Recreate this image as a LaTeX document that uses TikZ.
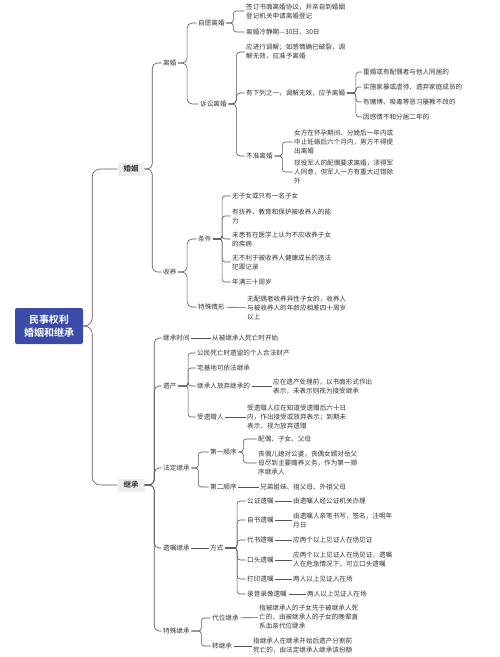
\documentclass[tikz,border=0pt]{standalone}
\usepackage{fontspec}
\setmainfont{Noto Sans CJK SC}[BoldFont={Noto Sans CJK SC Bold}]
\usepackage{tikz}
\definecolor{Accent}{HTML}{3A4BA8}
\definecolor{Soft}{HTML}{EEEEEE}
\definecolor{Ink}{HTML}{333333}
\definecolor{Wire}{HTML}{555555}
\tikzset{
maproot/.style={fill=Accent, rounded corners=2pt, text=white, align=center, font=\bfseries\fontsize{10}{13}\selectfont, minimum width=68pt, minimum height=36pt, inner sep=2pt},
mapmain/.style={fill=Soft, text=Ink, font=\bfseries\fontsize{7.5}{9}\selectfont, minimum width=27pt, minimum height=13pt, inner sep=1pt},
mapleaf/.style={anchor=west, align=left, inner sep=1.5pt, text=Ink, font=\fontsize{6.6}{9}\selectfont},
maplink/.style={draw=Wire, line width=0.6pt, rounded corners=3pt}
}

\begin{document}
\begin{tikzpicture}[x=1pt, y=-1pt]
  \useasboundingbox (0,0) rectangle (500,657);
  % root and the two main topics
  \node[maproot] (root) at (49,326) {民事权利\\婚姻和继承};
  \node[mapmain] (hy) at (131,169) {婚姻};
  \node[mapmain] (jc) at (131,485) {继承};
  % marriage side
  \node[mapleaf] (lh) at (161.5,63) {离婚};
  \node[mapleaf] (sy) at (161.5,272) {收养};
  \node[mapleaf] (zy) at (196.5,23) {自愿离婚};
  \node[mapleaf] (ss) at (198.5,104) {诉讼离婚};
  \node[mapleaf] (zy1) at (244.5,11) {签订书面离婚协议，并亲自到婚姻\\登记机关申请离婚登记};
  \node[mapleaf] (zy2) at (244.5,32) {离婚冷静期—30日、30日};
  \node[mapleaf] (ss1) at (244.5,52) {应进行调解；如感情确已破裂，调\\解无效，应准予离婚};
  \node[mapleaf] (ss2) at (244.5,93) {有下列之一，调解无效，应予离婚};
  \node[mapleaf] (ss3) at (244.5,156) {不准离婚};
  \node[mapleaf] (ss2a) at (361.5,72) {重婚或有配偶者与他人同居的};
  \node[mapleaf] (ss2b) at (361.5,87) {实施家暴或虐待、遗弃家庭成员的};
  \node[mapleaf] (ss2c) at (361.5,102) {有赌博、吸毒等恶习屡教不改的};
  \node[mapleaf] (ss2d) at (361.5,117) {因感情不和分居二年的};
  \node[mapleaf] (ss3a) at (292.5,142) {女方在怀孕期间、分娩后一年内或\\中止妊娠后六个月内，男方不得提\\出离婚};
  \node[mapleaf] (ss3b) at (292.5,172) {现役军人的配偶要求离婚，须得军\\人同意，但军人一方有重大过错除\\外};
  \node[mapleaf] (tj) at (196.5,239) {条件};
  \node[mapleaf] (ts) at (196.5,307) {特殊情形};
  \node[mapleaf] (tj1) at (230.5,196) {无子女或只有一名子女};
  \node[mapleaf] (tj2) at (230.5,216) {有抚养、教育和保护被收养人的能\\力};
  \node[mapleaf] (tj3) at (230.5,239) {未患有在医学上认为不应收养子女\\的疾病};
  \node[mapleaf] (tj4) at (230.5,262) {无不利于被收养人健康成长的违法\\犯罪记录};
  \node[mapleaf] (tj5) at (230.5,282) {年满三十周岁};
  \node[mapleaf] (ts1) at (245.5,308) {无配偶者收养异性子女的，收养人\\与被收养人的年龄应相差四十周岁\\以上};
  % inheritance side
  \node[mapleaf] (jt) at (161.5,338) {继承时间};
  \node[mapleaf] (jt1) at (210.5,338) {从被继承人死亡时开始};
  \node[mapleaf] (yc) at (161.5,386) {遗产};
  \node[mapleaf] (yc1) at (195.5,353) {公民死亡时遗留的个人合法财产};
  \node[mapleaf] (yc2) at (195.5,368) {宅基地可依法继承};
  \node[mapleaf] (yc3) at (195.5,386) {继承人放弃继承的};
  \node[mapleaf] (yc3a) at (271.5,387) {应在遗产处理前，以书面形式作出\\表示，未表示则视为接受继承};
  \node[mapleaf] (yc4) at (195.5,417) {受遗赠人};
  \node[mapleaf] (yc4a) at (245.5,417) {受遗赠人应在知道受遗赠后六十日\\内，作出接受或放弃表示；到期未\\表示，视为放弃遗赠};
  \node[mapleaf] (fd) at (161.5,468) {法定继承};
  \node[mapleaf] (fd1) at (208.5,452) {第一顺序};
  \node[mapleaf] (fd2) at (208.5,487) {第二顺序};
  \node[mapleaf] (fd1a) at (256.5,439) {配偶、子女、父母};
  \node[mapleaf] (fd1b) at (256.5,463) {丧偶儿媳对公婆，丧偶女婿对岳父\\母尽到主要赡养义务，作为第一顺\\序继承人};
  \node[mapleaf] (fd2a) at (258.5,487) {兄弟姐妹、祖父母、外祖父母};
  \node[mapleaf] (yz) at (161.5,548) {遗嘱继承};
  \node[mapleaf] (fs) at (208.5,548) {方式};
  \node[mapleaf] (fs1) at (245.5,501) {公证遗嘱};
  \node[mapleaf] (fs2) at (245.5,520) {自书遗嘱};
  \node[mapleaf] (fs3) at (245.5,540) {代书遗嘱};
  \node[mapleaf] (fs4) at (245.5,560) {口头遗嘱};
  \node[mapleaf] (fs5) at (245.5,579) {打印遗嘱};
  \node[mapleaf] (fs6) at (245.5,594) {录音录像遗嘱};
  \node[mapleaf] (fs1a) at (291.5,501) {由遗嘱人经公证机关办理};
  \node[mapleaf] (fs2a) at (291.5,520) {由遗嘱人亲笔书写，签名，注明年\\月日};
  \node[mapleaf] (fs3a) at (291.5,540) {应两个以上见证人在场见证};
  \node[mapleaf] (fs4a) at (291.5,560) {应两个以上见证人在场见证，遗嘱\\人在危急情况下，可立口头遗嘱};
  \node[mapleaf] (fs5a) at (291.5,579) {两人以上见证人在场};
  \node[mapleaf] (fs6a) at (305.5,594) {两人以上见证人在场};
  \node[mapleaf] (tsj) at (161.5,631) {特殊继承};
  \node[mapleaf] (dw) at (210.5,618) {代位继承};
  \node[mapleaf] (zj) at (210.5,646) {转继承};
  \node[mapleaf] (dwa) at (257.5,617) {指被继承人的子女先于被继承人死\\亡的，由被继承人的子女的晚辈直\\系血亲代位继承};
  \node[mapleaf] (zja) at (251.5,646) {指继承人在继承开始后遗产分割前\\死亡的，由法定继承人继承该份额};
  % branches
  \foreach \c in {hy,jc} \draw[maplink, rounded corners=8pt] (root.east) -- ++(9,0) |- (\c.west);
  \foreach \c in {lh,sy} \draw[maplink, rounded corners=5pt] (hy.east) -- ++(7.5,0) |- (\c.west);
  \foreach \c in {zy,ss} \draw[maplink, rounded corners=5pt] (lh.east) -- ++(9,0) |- (\c.west);
  \foreach \c in {zy1,zy2} \draw[maplink] (zy.east) -- ++(7,0) |- (\c.west);
  \foreach \c in {ss1,ss2,ss3} \draw[maplink, rounded corners=4pt] (ss.east) -- ++(8,0) |- (\c.west);
  \foreach \c in {ss2a,ss2b,ss2c,ss2d} \draw[maplink] (ss2.east) -- ++(9,0) |- (\c.west);
  \foreach \c in {ss3a,ss3b} \draw[maplink] (ss3.east) -- ++(8,0) |- (\c.west);
  \foreach \c in {tj,ts} \draw[maplink, rounded corners=5pt] (sy.east) -- ++(9,0) |- (\c.west);
  \foreach \c in {tj1,tj2,tj3,tj4,tj5} \draw[maplink] (tj.east) -- ++(9,0) |- (\c.west);
  \draw[maplink] (ts) -- (ts1);
  \foreach \c in {jt,yc,fd,yz,tsj} \draw[maplink, rounded corners=5pt] (jc.east) -- ++(9.5,0) |- (\c.west);
  \draw[maplink] (jt) -- (jt1);
  \foreach \c in {yc1,yc2,yc3,yc4} \draw[maplink] (yc.east) -- ++(10,0) |- (\c.west);
  \draw[maplink] (yc3.east) -- (yc3a.west |- yc3.east);
  \draw[maplink] (yc4) -- (yc4a);
  \foreach \c in {fd1,fd2} \draw[maplink] (fd.east) -- ++(7,0) |- (\c.west);
  \foreach \c in {fd1a,fd1b} \draw[maplink] (fd1.east) -- ++(5,0) |- (\c.west);
  \draw[maplink] (fd2) -- (fd2a);
  \draw[maplink] (yz) -- (fs);
  \foreach \c in {fs1,fs2,fs3,fs4,fs5,fs6} \draw[maplink] (fs.east) -- ++(12,0) |- (\c.west);
  \foreach \i in {1,...,6} \draw[maplink] (fs\i) -- (fs\i a);
  \foreach \c in {dw,zj} \draw[maplink] (tsj.east) -- ++(10,0) |- (\c.west);
  \draw[maplink] (dw) -- (dwa);
  \draw[maplink] (zj) -- (zja);
\end{tikzpicture}
\end{document}
